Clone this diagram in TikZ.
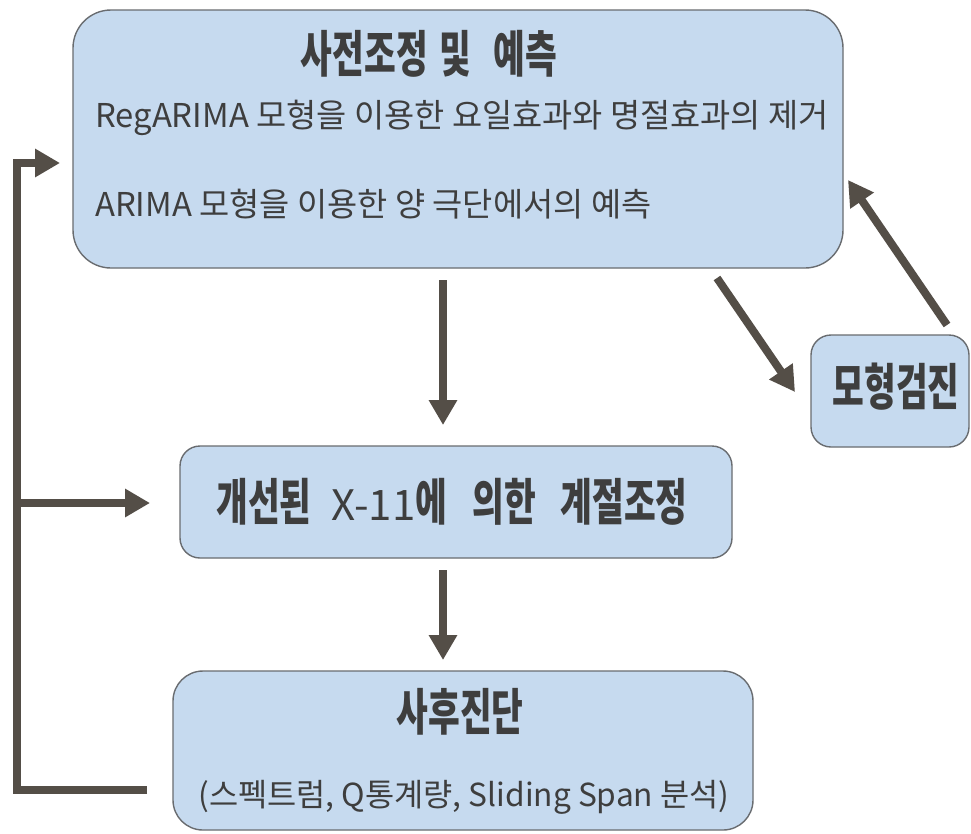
\documentclass[tikz,border=0pt]{standalone}
\usepackage{fontspec}
\usepackage{graphicx}
\setmainfont{Noto Sans CJK KR}
\usetikzlibrary{arrows.meta}
\definecolor{boxfill}{RGB}{198,218,239}
\definecolor{boxline}{RGB}{105,108,112}
\definecolor{arrowc}{RGB}{84,78,71}
\definecolor{txt}{RGB}{62,62,62}
\newcommand{\hd}[1]{\scalebox{0.69}[1]{\fontsize{50}{52}\selectfont\bfseries #1}}
\newcommand{\bodyfont}{\fontsize{32.8}{36}\selectfont}
\newcommand{\subfont}{\fontsize{31.7}{35}\selectfont}
\begin{document}
\begin{tikzpicture}[x=1pt,y=-1pt,
  boxst/.style={draw=boxline, line width=1.4pt, fill=boxfill, inner sep=0pt, outer sep=0pt},
  txtst/.style={text=txt, inner sep=0pt},
  arr/.style={draw=arrowc, line width=8pt, -{Triangle[length=25pt,width=27pt]}},
  lineonly/.style={draw=arrowc, line width=8pt}]
\useasboundingbox (0,0) rectangle (971,833);
\fill[white] (0,0) rectangle (971,833);

% boxes
\node[boxst, rounded corners=38pt, minimum width=770pt, minimum height=258pt] (pre) at (458,139) {};
\node[boxst, rounded corners=20pt, minimum width=552pt, minimum height=112pt] (mid) at (456,502) {};
\node[boxst, rounded corners=30pt, minimum width=580pt, minimum height=159pt] (post) at (463,750.5) {};
\node[boxst, rounded corners=20pt, minimum width=158pt, minimum height=112pt] (chk) at (890,391) {};

% texts
\node[txtst] (pretitle) at (429,54) {\hd{사전조정}\hspace{12pt}\hd{및}\hspace{22pt}\hd{예측}};
\node[txtst, anchor=west] (preline1) at (95,118) {\bodyfont RegARIMA 모형을 이용한 요일효과와 명절효과의 제거};
\node[txtst, anchor=west] (preline2) at (95,204) {\bodyfont ARIMA 모형을 이용한 양 극단에서의 예측};
\node[txtst] (midtext) at (452,502) {\hd{개선된}\hspace{20pt}{\fontsize{42}{44}\selectfont X-11}\hd{에}\hspace{25pt}\hd{의한}\hspace{25pt}\hd{계절조정}};
\node[txtst] (posttitle) at (460,712) {\hd{사후진단}};
\node[txtst] (postline) at (464,797) {\subfont (스펙트럼, Q통계량, Sliding Span 분석)};
\node[txtst] (chktext) at (896,387) {\hd{모형검진}};

% arrows
\draw[arr] ([xshift=-15pt,yshift=-12pt]pre.south) -- ([xshift=-13pt,yshift=21pt]mid.north);
\draw[arr] ([xshift=-13pt,yshift=-12pt]mid.south) -- ([xshift=-20pt,yshift=11pt]post.north);
\draw[arr] ([xshift=259pt,yshift=-10pt]pre.south) -- ([xshift=-16pt,yshift=-1pt]chk.west);
\draw[arr] ([xshift=57pt,yshift=10pt]chk.north) -- ([xshift=5pt,yshift=-41pt]pre.east);

% feedback loop
\coordinate (fbstart) at ([xshift=-26pt,yshift=-39.5pt]post.west);
\coordinate (cornerBL) at (17,790);
\coordinate (cornerTL) at (17,163);
\coordinate (branch) at (17,503);
\draw[arr, line join=miter] (fbstart) -- (cornerBL) -- (cornerTL) -- ([xshift=-13pt,yshift=-24pt]pre.west);
\draw[arr] (branch) -- ([xshift=-30pt,yshift=-1pt]mid.west);
\end{tikzpicture}
\end{document}
